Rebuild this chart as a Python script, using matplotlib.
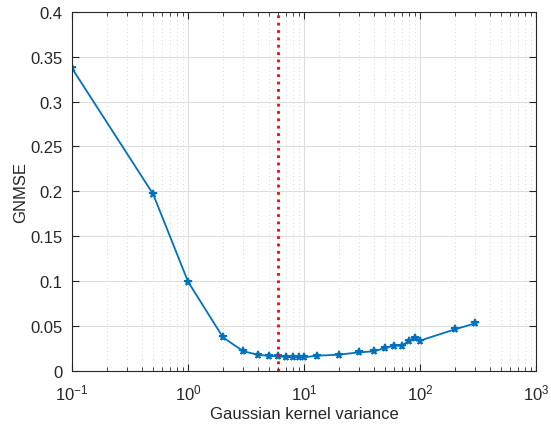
import matplotlib
matplotlib.use("Agg")
import matplotlib.pyplot as plt
from matplotlib.ticker import FixedLocator, LogLocator, NullFormatter

plt.rcParams['font.family'] = ['Liberation Sans', 'DejaVu Sans']
plt.rcParams['mathtext.fontset'] = 'custom'
plt.rcParams['mathtext.rm'] = 'Liberation Sans'
plt.rcParams['mathtext.it'] = 'Liberation Sans:italic'

# Datos
varianza = [0.1, 0.5, 1, 2, 3, 4, 5, 6, 7, 8, 9, 10, 13, 20, 30, 40,
            50, 60, 70, 80, 90, 100, 200, 300]
gnmse = [0.337, 0.197, 0.0995, 0.0375, 0.0219, 0.0182, 0.0167, 0.0163,
         0.0155, 0.0154, 0.0154, 0.0153, 0.017, 0.0182, 0.0208, 0.0219,
         0.0256, 0.0282, 0.0282, 0.0338, 0.0371, 0.0338, 0.0464, 0.0531]
varianza_optima = 6
y_ticks = [0, 0.05, 0.1, 0.15, 0.2, 0.25, 0.3, 0.35, 0.4]

cor_texto = '#262626'

fig = plt.figure(figsize=(5.51, 4.31), dpi=100)
ax = fig.add_axes([0.1307, 0.1369, 0.8421, 0.8336])

ax.plot(varianza, gnmse, '-*', color='#0072BD', linewidth=1.3,
        markersize=5.5, markeredgewidth=1.3)
ax.axvline(varianza_optima, color='#FF0000', linestyle=':', linewidth=2)

ax.set_xscale('log')
ax.set_xlim(0.1, 1000)
ax.set_ylim(0, 0.4)
ax.yaxis.set_major_locator(FixedLocator(y_ticks))
ax.set_yticklabels([f'{v:g}' for v in y_ticks])
ax.xaxis.set_minor_locator(LogLocator(base=10, subs=range(2, 10), numticks=20))
ax.xaxis.set_minor_formatter(NullFormatter())

ax.grid(True, which='major', color='#dedede', linewidth=0.8, linestyle='-')
ax.grid(True, which='minor', axis='x', color='#d8d8d8', linewidth=0.7,
        linestyle=(0, (1, 3)))
ax.set_axisbelow(True)

ax.tick_params(which='both', direction='in', top=True, right=True,
               colors=cor_texto, labelsize=12)
ax.tick_params(which='major', length=5)
ax.tick_params(which='minor', length=3)
ax.tick_params(axis='x', which='major', pad=8)
ax.tick_params(axis='y', which='major', pad=7)
for lado in ax.spines.values():
    lado.set_color(cor_texto)
    lado.set_linewidth(0.8)

ax.set_xlabel('Gaussian kernel variance', fontsize=12, color=cor_texto,
              labelpad=3)
ax.set_ylabel('GNMSE', fontsize=12, color=cor_texto, labelpad=1)

plt.savefig('out.png', dpi=100)
plt.close()
